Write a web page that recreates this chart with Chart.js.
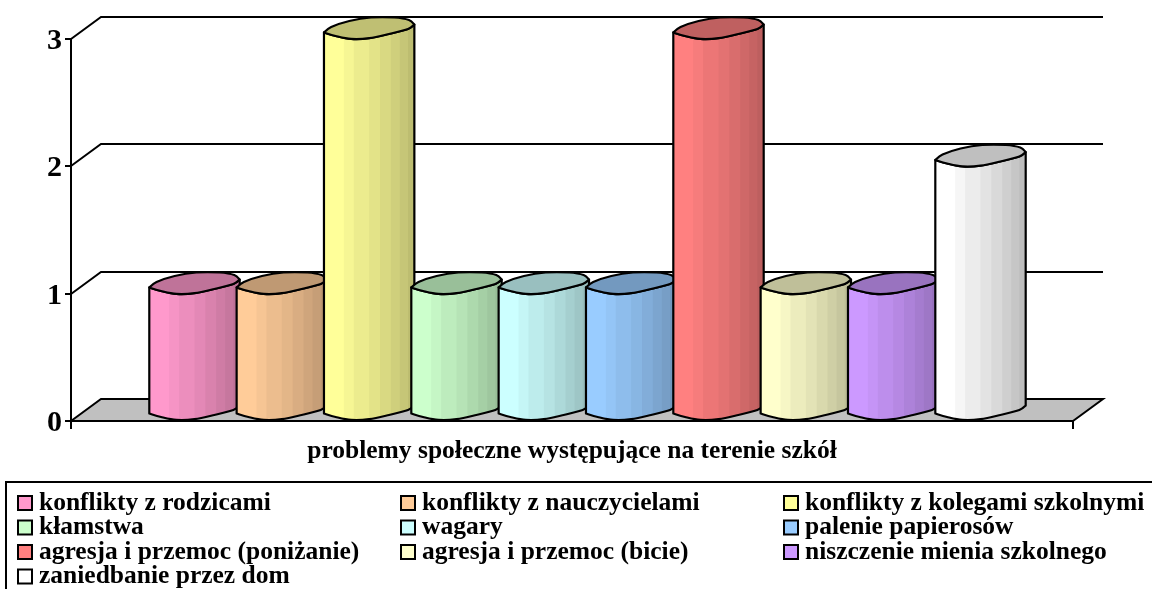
<!DOCTYPE html>
<html><head><meta charset="utf-8">
<style>html,body{margin:0;padding:0;background:#fff}canvas{display:block}</style>
<script src="https://cdn.jsdelivr.net/npm/chart.js@4"></script>
</head><body><div style="width:1152px;height:589px"><canvas id="c" width="1152" height="589"></canvas></div>
<script>
const categories = [''];
const seriesNames = ['konflikty z rodzicami','konflikty z nauczycielami','konflikty z kolegami szkolnymi','kłamstwa','wagary','palenie papierosów','agresja i przemoc (poniżanie)','agresja i przemoc (bicie)','niszczenie mienia szkolnego','zaniedbanie przez dom'];
const seriesValues = [1,1,3,1,1,1,3,1,1,2];
const seriesColors = ['#ff99cc','#ffcc99','#ffff99','#ccffcc','#ccffff','#99ccff','#ff8080','#ffffcc','#cc99ff','#ffffff'];
const yTicks = [0,1,2,3];
const axisTitle = 'problemy społeczne występujące na terenie szkół';

const SERIF = '"Liberation Serif","Times New Roman",serif';
const DEPTH_X = 30, DEPTH_Y = 22, BAR_SHIFT = 15.5;
// silhouette of the oblique cylinder cap, x as a fraction of the bar width, y in px from the value level
const capUpper = [[0,-6],[.08,-11.5],[.28,-17.5],[.52,-21],[.78,-21],[.94,-18.5],[1,-14]];
const capLower = [[1,-14],[.93,-9.5],[.72,-4.5],[.5,-.3],[.3,.4],[.13,-2.5],[0,-6]];
const bandEdges = [0,.22,.33,.5,.62,.74,.84,.93,1];
const bandShade = [1,.965,.925,.89,.85,.81,.775,.74];

function shade(hex,f){
  const n=parseInt(hex.slice(1),16);
  return `rgb(${Math.round((n>>16&255)*f)},${Math.round((n>>8&255)*f)},${Math.round((n&255)*f)})`;
}
function trace(ctx,pts,x,w,y,move){
  const P=pts.map(p=>[x+p[0]*w,y+p[1]]);
  if(move)ctx.moveTo(P[0][0],P[0][1]);else ctx.lineTo(P[0][0],P[0][1]);
  for(let i=0;i<P.length-1;i++){
    const a=P[Math.max(i-1,0)],b=P[i],c=P[i+1],d=P[Math.min(i+2,P.length-1)];
    ctx.bezierCurveTo(b[0]+(c[0]-a[0])/6,b[1]+(c[1]-a[1])/6,c[0]-(d[0]-b[0])/6,c[1]-(d[1]-b[1])/6,c[0],c[1]);
  }
}
const cylinder3d = {
  id:'cylinder3d',
  beforeDraw(chart){
    const {ctx,chartArea:a,scales:{y}}=chart;
    ctx.save();
    ctx.fillStyle='#c0c0c0';ctx.strokeStyle='#000';ctx.lineWidth=2;
    ctx.beginPath();ctx.moveTo(a.left,a.bottom);ctx.lineTo(a.left+DEPTH_X,a.bottom-DEPTH_Y);
    ctx.lineTo(a.right+DEPTH_X,a.bottom-DEPTH_Y);ctx.lineTo(a.right,a.bottom);ctx.closePath();ctx.fill();
    y.ticks.forEach(t=>{
      const py=Math.round(y.getPixelForValue(t.value));
      ctx.beginPath();ctx.moveTo(a.left,py);ctx.lineTo(a.left+DEPTH_X,py-DEPTH_Y);ctx.lineTo(a.right+DEPTH_X,py-DEPTH_Y);
      if(t.value===0)ctx.lineTo(a.right,py);
      ctx.stroke();
    });
    ctx.restore();
  },
  beforeDatasetsDraw(chart){
    const ctx=chart.ctx;
    chart.data.datasets.forEach((ds,i)=>{
      const el=chart.getDatasetMeta(i).data[0];
      const w=el.width,x=el.x-w/2+BAR_SHIFT,yT=el.y,y0=el.base;
      const color=ds.backgroundColor;
      ctx.save();
      ctx.beginPath();
      trace(ctx,capLower,x,w,yT,true);
      trace(ctx,[...capLower].reverse(),x,w,y0-.5,false);
      ctx.closePath();
      ctx.save();ctx.clip();
      for(let b=0;b<bandShade.length;b++){
        ctx.fillStyle=shade(color,bandShade[b]);
        ctx.fillRect(x+bandEdges[b]*w,yT-30,(bandEdges[b+1]-bandEdges[b])*w+1,y0-yT+40);
      }
      ctx.restore();
      ctx.strokeStyle='#000';ctx.lineWidth=2.2;ctx.lineJoin='round';ctx.stroke();
      ctx.beginPath();
      trace(ctx,capUpper,x,w,yT,true);
      trace(ctx,capLower,x,w,yT,false);
      ctx.closePath();
      ctx.fillStyle=shade(color,.75);ctx.fill();ctx.stroke();
      ctx.restore();
    });
    return false;
  },
  afterDraw(chart){
    const ctx=chart.ctx;
    ctx.save();
    ctx.strokeStyle='#000';ctx.lineWidth=2;
    ctx.strokeRect(6,482,1160,120);
    ctx.font='bold 25.5px '+SERIF;ctx.textBaseline='middle';ctx.textAlign='left';
    chart.data.datasets.forEach((ds,i)=>{
      const col=i%3,row=Math.floor(i/3);
      const sx=18+col*383,sy=503+row*24.5;
      ctx.fillStyle=ds.backgroundColor;
      ctx.fillRect(sx,sy-7,14,14);
      ctx.lineWidth=2;ctx.strokeStyle='#000';ctx.strokeRect(sx,sy-7,14,14);
      ctx.fillStyle='#000';
      ctx.fillText(ds.label,sx+21,sy);
    });
    ctx.restore();
  }
};
new Chart(document.getElementById('c'),{
  type:'bar',
  data:{labels:categories,datasets:seriesNames.map((n,i)=>({label:n,data:[seriesValues[i]],backgroundColor:seriesColors[i],borderColor:'#000'}))},
  options:{
    responsive:false,animation:false,
    layout:{padding:{top:38.5,right:79,left:0,bottom:0}},
    categoryPercentage:.8716,barPercentage:1.035,
    plugins:{legend:{display:false},tooltip:{enabled:false},title:{display:false}},
    scales:{
      x:{
        afterFit(s){s.height=168},
        grid:{drawOnChartArea:false,drawTicks:true,tickLength:8,color:'#000',lineWidth:2},
        border:{color:'#000',width:2},
        ticks:{display:false},
        title:{display:true,text:axisTitle,color:'#000',font:{family:SERIF,size:25.5,weight:'bold'},padding:{top:0,bottom:122}}
      },
      y:{
        min:0,max:3,
        afterFit(s){s.width=71},
        afterBuildTicks(s){s.ticks=yTicks.map(v=>({value:v}))},
        afterUpdate(s){
          if(s._labelShiftDone)return;
          s._labelShiftDone=true;
          const draw=s.drawLabels;
          s.drawLabels=function(area){const c=this.ctx;c.save();c.translate(0,2.5);draw.call(this,area);c.restore();};
        },
        grid:{drawOnChartArea:false,drawTicks:true,tickLength:6,color:'#000',lineWidth:2},
        border:{color:'#000',width:2},
        ticks:{color:'#000',padding:3,font:{family:SERIF,size:30,weight:'bold'}}
      }
    }
  },
  plugins:[cylinder3d]
});
</script></body></html>
